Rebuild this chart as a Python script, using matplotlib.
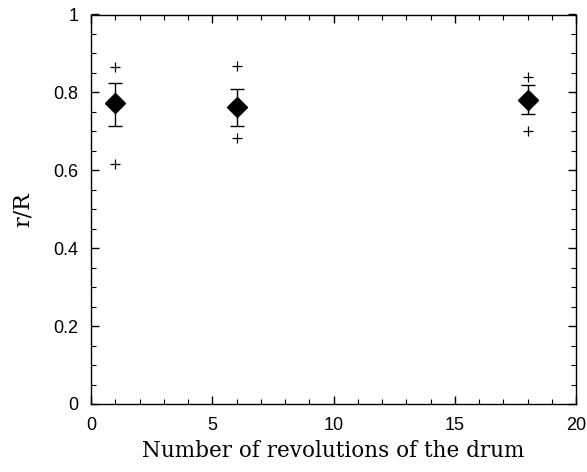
import numpy as np
import matplotlib
matplotlib.use('Agg')
import matplotlib.pyplot as plt
from matplotlib.ticker import MultipleLocator

# --- Данные ---
revolutions = [1, 6, 18]
mean_ratio = [0.772, 0.762, 0.780]
err_low = [0.715, 0.715, 0.745]
err_high = [0.823, 0.810, 0.820]
single_x = [1, 1, 6, 6, 18, 18]
single_ratio = [0.864, 0.615, 0.868, 0.683, 0.840, 0.700]

mean_ratio = np.array(mean_ratio)
yerr = [mean_ratio - np.array(err_low), np.array(err_high) - mean_ratio]

fig = plt.figure(figsize=(5.87, 4.72), dpi=100)
ax = fig.add_axes([91 / 587, 1 - 404 / 472, 485 / 587, 389.5 / 472])

ax.plot(single_x, single_ratio, '+', color='black', markersize=7, markeredgewidth=0.9)
ax.errorbar(revolutions, mean_ratio, yerr=yerr, fmt='D', color='black',
            markersize=10, capsize=5, elinewidth=1, capthick=1)

ax.set_xlim(0, 20)
ax.set_ylim(0, 1)
ax.xaxis.set_major_locator(MultipleLocator(5))
ax.xaxis.set_minor_locator(MultipleLocator(1))
ax.yaxis.set_major_locator(MultipleLocator(0.2))
ax.yaxis.set_minor_locator(MultipleLocator(0.05))
ax.yaxis.set_major_formatter(plt.FuncFormatter(lambda v, p: '%g' % round(v, 2)))
ax.tick_params(which='both', direction='in', top=True, right=True, labelsize=13)
ax.tick_params(which='major', length=6, width=1)
ax.tick_params(which='minor', length=3.5, width=0.8)
ax.tick_params(axis='x', pad=9)
ax.tick_params(axis='y', pad=9)
for lab in ax.get_xticklabels() + ax.get_yticklabels():
    lab.set_family('Liberation Sans')
for s in ax.spines.values():
    s.set_linewidth(1)

ax.set_xlabel('Number of revolutions of the drum', family='DejaVu Serif', fontsize=15.5, labelpad=5)
ax.set_ylabel('r/R', family='DejaVu Serif', fontsize=16, labelpad=14)

plt.savefig('out.png', dpi=100)
plt.close()
